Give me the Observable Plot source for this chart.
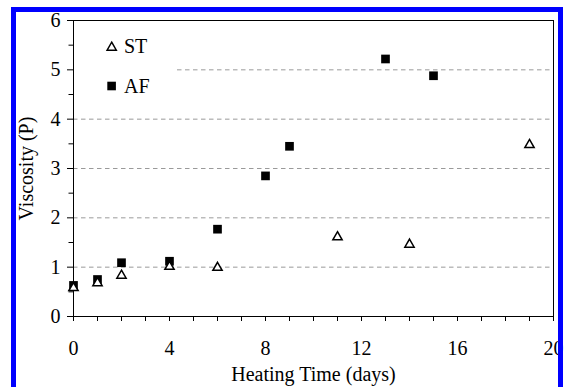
<!DOCTYPE html>
<html><head><meta charset="utf-8">
<script src="https://cdn.jsdelivr.net/npm/d3@7"></script>
<script src="https://cdn.jsdelivr.net/npm/@observablehq/plot@0.6"></script>
<style>
html,body{margin:0;padding:0;background:#fff;}
#wrap{position:relative;width:564px;height:387px;overflow:hidden;font-family:"Liberation Serif","Times New Roman",serif;}
#chart{position:absolute;left:0;top:0;}
#legend{position:absolute;left:0;top:0;}
#border{position:absolute;left:11px;top:7px;width:542px;height:420px;border:5px solid #0000ff;border-bottom:none;pointer-events:none;}
</style>
</head><body>
<div id="wrap">
  <div id="chart"></div>
  <svg id="legend" width="564" height="387" style="overflow:visible">
    <rect x="74" y="21" width="102" height="84" fill="#fff"></rect>
    <path d="M111.7,42.2 L116.3,50.2 L107.1,50.2 Z" fill="#fff" stroke="#000" stroke-width="1.5"></path>
    <text x="124" y="53" font-family="Liberation Serif, Times New Roman, serif" font-size="20" fill="#000">ST</text>
    <rect x="107.3" y="81.7" width="8.6" height="8.6" fill="#000"></rect>
    <text x="124" y="92.5" font-family="Liberation Serif, Times New Roman, serif" font-size="20" fill="#000">AF</text>
  </svg>
  <div id="border"></div>
</div>
<script>
// Data
const daysST = [0, 1, 2, 4, 6, 11, 14, 19];
const viscST = [0.58, 0.68, 0.83, 1.01, 0.99, 1.61, 1.46, 3.48];
const daysAF = [0, 1, 2, 4, 6, 8, 9, 13, 15];
const viscAF = [0.63, 0.75, 1.09, 1.12, 1.77, 2.85, 3.45, 5.22, 4.88];
const yTicks = [0, 1, 2, 3, 4, 5, 6];
const yMinorTicks = [0.5, 1.5, 2.5, 3.5, 4.5, 5.5];
const xTicks = [0, 4, 8, 12, 16, 20];
const xMinorTicks = d3.range(0, 21);
const gridValues = [1, 2, 3, 4, 5];

const st = daysST.map((d, i) => ({day: d, v: viscST[i]}));
const af = daysAF.map((d, i) => ({day: d, v: viscAF[i]}));

const chart = Plot.plot({
  width: 564,
  height: 387,
  marginLeft: 73,
  marginRight: 11,
  marginTop: 20,
  marginBottom: 71,
  x: {domain: [0, 20]},
  y: {domain: [0, 6]},
  style: {fontFamily: '"Liberation Serif","Times New Roman",serif', fontSize: "20px", color: "#000", background: "transparent", overflow: "visible"},
  marks: [
    Plot.ruleY(gridValues, {stroke: "#9a9a9a", strokeDasharray: "4.5,3.5", strokeWidth: 1}),
    Plot.axisY(yMinorTicks, {tickSize: 4.5, text: null, label: null}),
    Plot.axisY(yTicks, {tickSize: 6, tickPadding: 7, fontSize: 20, label: "Viscosity (P)", labelAnchor: "center", labelArrow: "none", labelOffset: 55}),
    Plot.axisX(xMinorTicks, {tickSize: 5, text: null, label: null}),
    Plot.axisX(xTicks, {tickSize: 5, tickPadding: 19, fontSize: 20, label: "Heating Time (days)", labelAnchor: "center", labelArrow: "none", labelOffset: 64}),
    Plot.frame({stroke: "#000", strokeWidth: 1}),
    Plot.dot(af, {x: "day", y: "v", symbol: "square", r: 4.9, fill: "#000", stroke: "none"}),
    Plot.dot(st, {x: "day", y: "v", symbol: "triangle", r: 3.45, stroke: "#000", strokeWidth: 1.5, fill: "#fff"})
  ]
});
document.getElementById("chart").appendChild(chart);
</script>
</body></html>
